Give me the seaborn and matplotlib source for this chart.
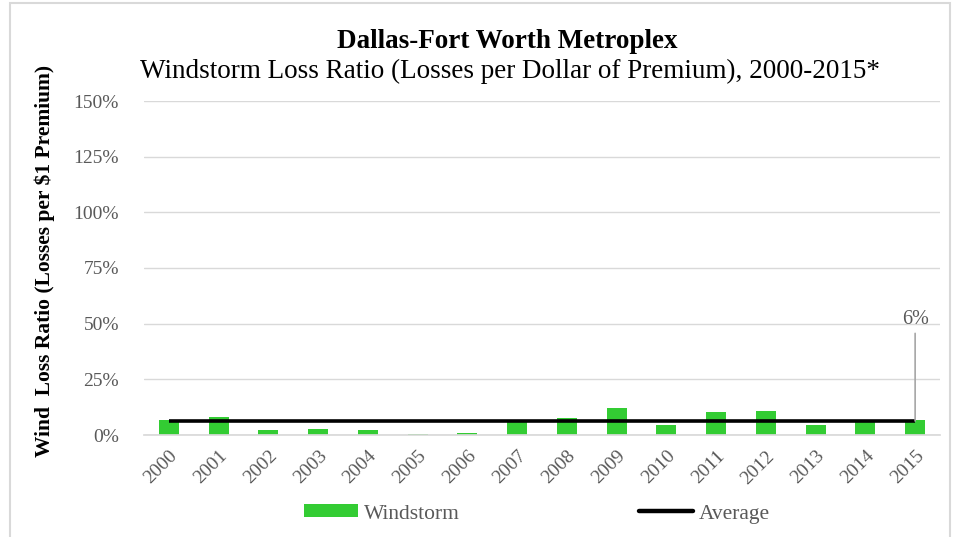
import matplotlib
matplotlib.use("Agg")
import matplotlib.pyplot as plt
import seaborn as sns
import pandas as pd
from matplotlib.lines import Line2D
from matplotlib.patches import Patch, Rectangle
from matplotlib.ticker import PercentFormatter

# data
years = [str(y) for y in range(2000, 2016)]
windstorm = [0.067, 0.082, 0.023, 0.027, 0.021, 0.006, 0.010, 0.060,
             0.076, 0.123, 0.045, 0.102, 0.108, 0.045, 0.060, 0.066]
average = 0.063
average_label = "6%"
y_ticks = [0, 0.25, 0.5, 0.75, 1.0, 1.25, 1.5]

sns.set_theme(style="white")
plt.rcParams['font.family'] = ['Liberation Serif', 'DejaVu Serif']

green = "#33CC33"
grey_text = "#595959"

df = pd.DataFrame({"Year": years, "Loss": windstorm})

fig = plt.figure(figsize=(9.55, 5.37), dpi=100)
ax = fig.add_axes([144 / 955, 1 - 435 / 537, 796 / 955, 334 / 537])

sns.barplot(data=df, x="Year", y="Loss", color=green, width=0.4,
            saturation=1, linewidth=0, ax=ax)

# average line across all years
xs = list(range(len(years)))
ax.plot(xs, [average] * len(years), color="black", lw=2.6,
        solid_capstyle="butt", zorder=3)

# data label for the average on the last year
ax.annotate(average_label, xy=(xs[-1], average), xytext=(xs[-1], 0.52),
            ha="center", va="center", fontsize=14.5, color=grey_text,
            arrowprops=dict(arrowstyle="-", color="#a6a6a6", lw=1.2,
                            shrinkA=1, shrinkB=0))

ax.set_xlim(-0.5, len(years) - 0.5)
ax.set_ylim(0, 1.5)
ax.set_yticks(y_ticks)
ax.yaxis.set_major_formatter(PercentFormatter(1.0, decimals=0))
ax.grid(axis="y", color="#d9d9d9", lw=1)
ax.set_axisbelow(True)
for side in ["top", "right", "left"]:
    ax.spines[side].set_visible(False)
ax.spines["bottom"].set_color("#d9d9d9")
ax.tick_params(axis="y", labelsize=14, labelcolor=grey_text, length=0, pad=18)
ax.tick_params(axis="x", labelsize=14, labelcolor=grey_text, length=0, pad=9)
plt.setp(ax.get_xticklabels(), rotation=45, ha="right", rotation_mode="anchor")
ax.set_xlabel("")
ax.set_ylabel("Wind  Loss Ratio (Losses per $1 Premium)", fontsize=15.5,
              fontweight="bold", color="black")
ax.yaxis.set_label_coords(-0.112, 0.52)

fig.text(0.531, 1 - 42 / 537, "Dallas-Fort Worth Metroplex", ha="center",
         va="center", fontsize=19.5, fontweight="bold", color="black")
fig.text(0.534, 1 - 71 / 537,
         "Windstorm Loss Ratio (Losses per Dollar of Premium), 2000-2015*",
         ha="center", va="center", fontsize=19.5, color="black")

handles = [Patch(facecolor=green, edgecolor="none"),
           Line2D([0], [0], color="black", lw=3.2)]
fig.legend(handles, ["Windstorm", "Average"], loc="center",
           bbox_to_anchor=(537 / 955, 1 - 514 / 537), ncol=2, frameon=False,
           fontsize=15.5, labelcolor=grey_text, handlelength=2.5,
           handleheight=0.55, handletextpad=0.3, columnspacing=8.3)

# light outer border of the chart area
fig.patches.append(Rectangle((10 / 955, -0.01), 940 / 955, 1 - 3 / 537 + 0.01,
                             transform=fig.transFigure, fill=False,
                             edgecolor="#d9d9d9", lw=1.5))

fig.savefig("out.png", dpi=100)
